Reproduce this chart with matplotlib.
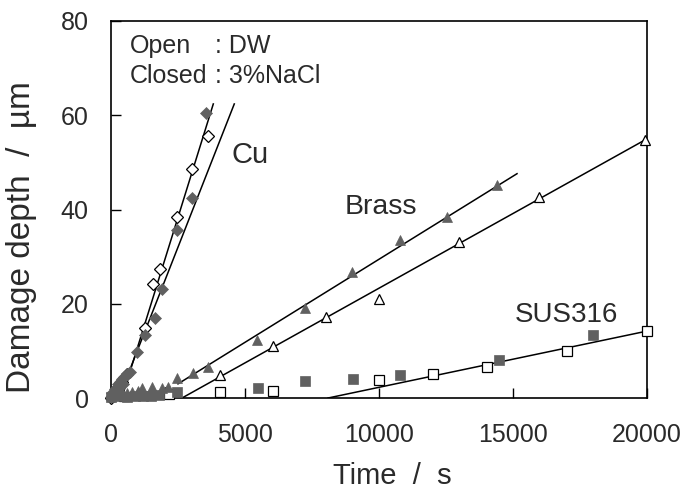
import matplotlib
matplotlib.use("Agg")
import matplotlib.pyplot as plt

plt.rcParams['font.family'] = ['Liberation Sans', 'DejaVu Sans']

# ---- data (Time / s, Damage depth / um) ----
cu_open_x = [0, 100, 200, 400, 600, 1268, 1580, 1828, 2451, 3034, 3607]
cu_open_y = [0.0, 1.0, 2.0, 3.5, 5.0, 14.8, 24.1, 27.4, 38.4, 48.6, 55.7]
cu_closed_x = [0, 50, 100, 150, 200, 250, 300, 350, 400, 450, 500, 600, 700, 970, 1268, 1642, 1903, 2451, 3034, 3545]
cu_closed_y = [0.3, 1.0, 0.5, 2.0, 1.5, 3.0, 2.5, 3.5, 4.0, 3.0, 4.5, 5.0, 5.5, 9.7, 13.3, 17.0, 23.1, 35.7, 42.5, 60.5]

brass_open_x = [500, 1000, 1500, 2000, 4067, 6056, 8022, 10011, 12996, 15980, 19925]
brass_open_y = [0.5, 1.0, 1.0, 1.2, 4.9, 11.1, 17.2, 21.0, 33.2, 42.6, 54.8]
brass_closed_x = [200, 400, 600, 800, 1000, 1160, 1530, 1900, 2130, 2451, 3072, 3631, 5460, 7238, 8980, 10783, 12548, 14390]
brass_closed_y = [1.0, 1.2, 1.0, 1.3, 1.5, 2.2, 2.3, 2.2, 2.3, 4.2, 5.2, 6.6, 12.4, 19.2, 26.7, 33.6, 38.5, 45.1]

sus_open_x = [2176, 4067, 6056, 10011, 12000, 14017, 17002, 19987]
sus_open_y = [0.8, 1.3, 1.5, 3.8, 5.1, 6.6, 10.0, 14.2]
sus_closed_x = [0, 300, 600, 900, 1200, 1500, 1800, 2460, 5473, 7250, 9017, 10783, 14477, 17995]
sus_closed_y = [0.2, 0.4, 0.3, 0.5, 0.4, 0.5, 0.6, 1.3, 2.2, 3.7, 4.1, 4.9, 8.0, 13.3]

# fitted lines (end points)
cu_open_fit_x = [402, 3817]
cu_open_fit_y = [0.0, 62.4]
cu_closed_fit_x = [288, 4600]
cu_closed_fit_y = [0.0, 62.4]
brass_closed_fit_x = [2500, 15150]
brass_closed_fit_y = [3.0, 47.6]
brass_open_fit_x = [2650, 20000]
brass_open_fit_y = [0.0, 55.0]
sus_fit_x = [8100, 20000]
sus_fit_y = [0.0, 14.2]

x_ticks = [0, 5000, 10000, 15000, 20000]
y_ticks = [0, 20, 40, 60, 80]

GRAY = '#606060'
TXT = '#2a2a2a'

fig = plt.figure(figsize=(6.87, 4.92), dpi=100)
ax = fig.add_axes([111/687, 94/492, 536/687, 377/492])

lw = 1.1
for fx, fy in [(cu_open_fit_x, cu_open_fit_y), (cu_closed_fit_x, cu_closed_fit_y),
               (brass_closed_fit_x, brass_closed_fit_y), (brass_open_fit_x, brass_open_fit_y),
               (sus_fit_x, sus_fit_y)]:
    ax.plot(fx, fy, color='black', lw=lw, zorder=2)

mk = dict(linestyle='none', clip_on=False, zorder=3)
ax.plot(cu_open_x, cu_open_y, marker='D', ms=6.5, mfc='white', mec='black', mew=0.9, **mk)
ax.plot(brass_open_x, brass_open_y, marker='^', ms=7, mfc='white', mec='black', mew=0.9, **mk)
ax.plot(sus_open_x, sus_open_y, marker='s', ms=6.5, mfc='white', mec='black', mew=0.9, **mk)
ax.plot(cu_closed_x, cu_closed_y, marker='D', ms=6.5, mfc=GRAY, mec=GRAY, mew=0.5, **mk)
ax.plot(brass_closed_x, brass_closed_y, marker='^', ms=7, mfc=GRAY, mec=GRAY, mew=0.5, **mk)
ax.plot(sus_closed_x, sus_closed_y, marker='s', ms=6.5, mfc=GRAY, mec=GRAY, mew=0.5, **mk)

ax.set_xlim(0, 20000)
ax.set_ylim(0, 80)
ax.set_xticks(x_ticks)
ax.set_yticks(y_ticks)
ax.tick_params(direction='in', length=7, width=1.0, labelsize=18, labelcolor=TXT)
ax.tick_params(axis='x', pad=18)
ax.tick_params(axis='y', pad=16)
for s in ax.spines.values():
    s.set_linewidth(1.2)

fig.text(392/687, 1 - 484/492, 'Time  /  s', fontsize=21, color=TXT, ha='center', va='baseline')
fig.text(22/687, 1 - 237/492, 'Damage depth  /  µm', fontsize=24, color=TXT,
         ha='center', va='center', rotation=90)

ax.text(0.035, 0.934, 'Open', transform=ax.transAxes, fontsize=18, color=TXT, va='center', ha='left')
ax.text(0.194, 0.934, ': DW', transform=ax.transAxes, fontsize=18, color=TXT, va='center', ha='left')
ax.text(0.035, 0.854, 'Closed', transform=ax.transAxes, fontsize=18, color=TXT, va='center', ha='left')
ax.text(0.194, 0.854, ': 3%NaCl', transform=ax.transAxes, fontsize=18, color=TXT, va='center', ha='left')

ax.text(0.259, 0.645, 'Cu', transform=ax.transAxes, fontsize=21, color=TXT, va='center', ha='center')
ax.text(0.504, 0.507, 'Brass', transform=ax.transAxes, fontsize=20.5, color=TXT, va='center', ha='center')
ax.text(0.849, 0.220, 'SUS316', transform=ax.transAxes, fontsize=20, color=TXT, va='center', ha='center')

fig.savefig('out.png', dpi=100)
